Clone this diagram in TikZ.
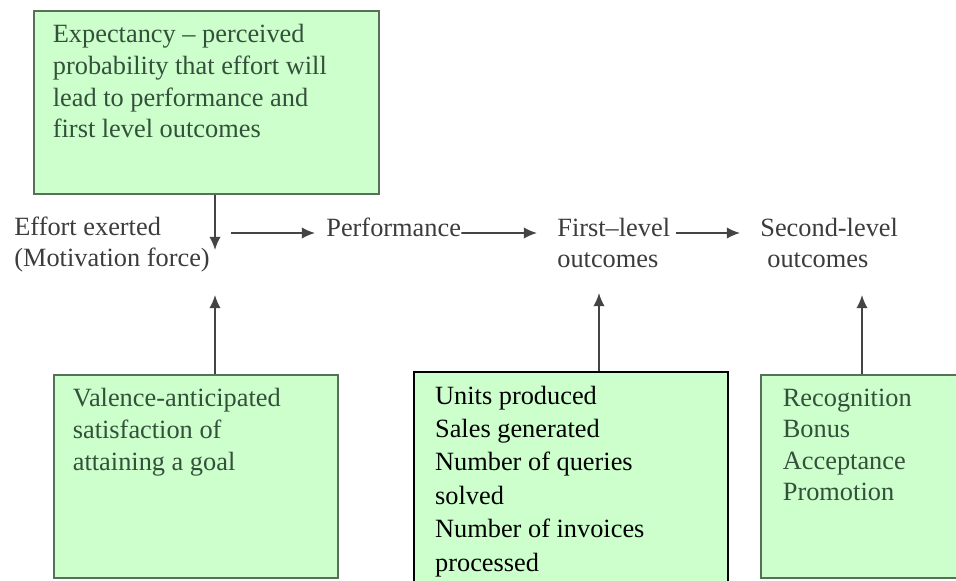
\documentclass[tikz,border=0pt]{standalone}
\usepackage{fontspec}
\setmainfont{Liberation Serif}
\usetikzlibrary{arrows.meta}

\definecolor{boxfill}{HTML}{CCFFCC}
\definecolor{boxline}{HTML}{56705A}
\definecolor{boxtext}{HTML}{34503A}
\definecolor{stagetext}{HTML}{3C3C3C}
\definecolor{linkgrey}{HTML}{444444}

\begin{document}
\begin{tikzpicture}[x=0.02cm, y=-0.02cm, >={Latex[length=7.5pt,width=6.5pt]},
		greenbox/.style={draw=boxline, fill=boxfill, line width=1pt, anchor=north west,
			inner ysep=0.275cm, text=boxtext, font=\fontsize{15}{18}\selectfont},
		stage/.style={anchor=base west, inner sep=0pt, align=left, text=stagetext,
			font=\fontsize{15}{17.5}\selectfont},
		link/.style={->, line width=1pt, draw=linkgrey}
	]
	\useasboundingbox (0,0) rectangle (956,581);
	\clip (0,0) rectangle (956,581);
	
	% boxes
	\node [greenbox, inner xsep=0.38cm] (expect) at (33,10)
		{\parbox[t][3.11cm][t]{6.14cm}{\raggedright Expectancy – perceived\\probability that effort will\\lead to performance and\\first level outcomes}};
	\node [greenbox, inner xsep=0.38cm] (valence) at (53,374)
		{\parbox[t][3.51cm][t]{4.92cm}{\raggedright Valence-anticipated\\satisfaction of\\attaining a goal}};
	\node [greenbox, draw=black, line width=1.3pt, text=black, inner xsep=0.42cm,
		font=\fontsize{15}{19}\selectfont] (units) at (413,371)
		{\parbox[t][4.05cm][t]{5.44cm}{\raggedright Units produced\\Sales generated\\Number of queries\\solved\\Number of invoices\\processed}};
	\node [greenbox, inner xsep=0.44cm] (reward) at (760,374)
		{\parbox[t][3.51cm][t]{4.32cm}{\raggedright Recognition\\Bonus\\Acceptance\\Promotion}};
	
	% stages (base = last line)
	\node [stage] (effort) at (14,266) {Effort exerted\\(Motivation force)};
	\node [stage] (perf) at (326,236) {Performance};
	\node [stage] (first) at (557,267) {First–level\\outcomes};
	\node [stage] (second) at (760,267) {Second-level\\\hspace{0.14cm}outcomes};
	
	\coordinate (effortin) at (215,250);
	\coordinate (effortup) at (215,295);
	\coordinate (firstup) at (599,293);
	\coordinate (secondup) at (862,295);
	
	% arrows
	\draw [link] (expect.south -| effortin) -- (effortin);
	\draw [link] (valence.north -| effortup) -- (effortup);
	\draw [link] (units.north -| firstup) -- (firstup);
	\draw [link] (reward.north -| secondup) -- (secondup);
	\draw [link] ([xshift=0.42cm,yshift=0.66cm]effort.base east) -- ([xshift=-0.22cm,yshift=0.06cm]perf.base west);
	\draw [link] ([yshift=0.06cm]perf.base east) -- ([xshift=-0.4cm,yshift=0.68cm]first.base west);
	\draw [link] ([xshift=0.12cm,yshift=0.68cm]first.base east) -- ([xshift=-0.4cm,yshift=0.68cm]second.base west);
\end{tikzpicture}
\end{document}
